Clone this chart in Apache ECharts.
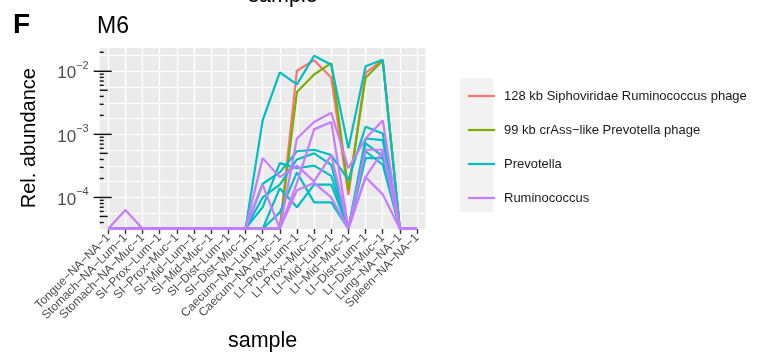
<!DOCTYPE html>
<html>
<head>
<meta charset="utf-8">
<script src="https://cdn.jsdelivr.net/npm/echarts@6/dist/echarts.min.js"></script>
<style>
  html, body { margin: 0; padding: 0; background: #fff; }
  #chart { width: 762px; height: 357px; }
</style>
</head>
<body>
<div id="chart"></div>
<script>
// x axis categories
const samples = [
  'Tongue−NA−NA−1', 'Stomach−NA−Lum−1', 'Stomach−NA−Muc−1', 'SI−Prox−Lum−1', 'SI−Prox−Muc−1',
  'SI−Mid−Lum−1', 'SI−Mid−Muc−1', 'SI−Dist−Lum−1', 'SI−Dist−Muc−1', 'Caecum−NA−Lum−1',
  'Caecum−NA−Muc−1', 'LI−Prox−Lum−1', 'LI−Prox−Muc−1', 'LI−Mid−Lum−1', 'LI−Mid−Muc−1',
  'LI−Dist−Lum−1', 'LI−Dist−Muc−1', 'Lung−NA−NA−1', 'Spleen−NA−NA−1'
]

// floor value where abundance is zero
const Z = 3.2e-5

const phage128 = [Z, Z, Z, Z, Z, Z, Z, Z, Z, Z, Z, 0.0102, 0.0150, 0.0079, 0.00011, 0.0094, 0.0150, Z, Z]
const phage99 = [Z, Z, Z, Z, Z, Z, Z, Z, Z, Z, Z, 0.0047, 0.0089, 0.0135, 0.00013, 0.0079, 0.0147, Z, Z]
const prevotella = [
  [Z, Z, Z, Z, Z, Z, Z, Z, Z, 0.00166, 0.0096, 0.0062, 0.0176, 0.0127, 0.0006, 0.0120, 0.0152, Z, Z],
  [Z, Z, Z, Z, Z, Z, Z, Z, Z, 0.000165, 0.00025, 0.00054, 0.00057, 0.00047, 0.00019, 0.00132, 0.00103, Z, Z],
  [Z, Z, Z, Z, Z, Z, Z, Z, Z, 0.0001, 0.00016, 0.0004, 0.0005, 0.00033, Z, 0.00086, 0.00081, Z, Z],
  [Z, Z, Z, Z, Z, Z, Z, Z, Z, 0.00007, 0.00035, 0.00029, 0.00032, 0.00022, Z, 0.00072, 0.00045, Z, Z],
  [Z, Z, Z, Z, Z, Z, Z, Z, Z, Z, 0.00014, 0.00007, 0.00016, 0.00016, Z, 0.00054, 0.00033, Z, Z],
  [Z, Z, Z, Z, Z, Z, Z, Z, Z, Z, 0.000058, 0.00025, 0.0000835, 0.0000835, Z, 0.00042, 0.00042, Z, Z]
]
const ruminococcus = [
  [Z, Z, Z, Z, Z, Z, Z, Z, Z, Z, Z, 0.00086, 0.00157, 0.0022, 0.00029, 0.00086, 0.00166, Z, Z],
  [Z, Z, Z, Z, Z, Z, Z, Z, Z, Z, Z, 0.00017, 0.0012, 0.00157, Z, 0.00057, 0.00057, Z, Z],
  [Z, Z, Z, Z, Z, Z, Z, Z, Z, 0.00042, 0.00021, 0.00032, 0.00018, 0.00047, Z, 0.00021, 0.00054, Z, Z],
  [Z, 0.000063, Z, Z, Z, Z, Z, Z, Z, 0.00016, Z, 0.00013, 0.00017, 0.0001, Z, 0.00021, 0.000112, Z, Z]
]

// y axis (log10), labelled decades and log tick marks
const yLabelExponents = [-4, -3, -2]
const logTickExponents = [-5, -4, -3, -2]
const logTickMantissas = [1, 2, 3, 4, 5, 6, 7, 8, 9]
const yMin = -4.5
const yMax = -1.62

const groups = [
  { name: '128 kb Siphoviridae Ruminococcus phage', color: '#F8766D', lines: [phage128] },
  { name: '99 kb crAss−like Prevotella phage', color: '#7CAE00', lines: [phage99] },
  { name: 'Prevotella', color: '#00BFC4', lines: prevotella },
  { name: 'Ruminococcus', color: '#C77CFF', lines: ruminococcus }
]

const FONT = '"Liberation Sans", Arial, sans-serif'
const GRID_LEFT = 99.7
const GRID_RIGHT = 762 - 425.6
const GRID_TOP = 47.3
const GRID_BOTTOM = 357 - 232.1

const series = []
groups.forEach(g => {
  g.lines.forEach(arr => {
    series.push({
      name: g.name,
      type: 'line',
      data: arr.map(v => Math.log10(v)),
      symbol: 'none',
      clip: false,
      silent: true,
      lineStyle: { color: g.color, width: 2.2 },
      itemStyle: { color: g.color }
    })
  })
})

const myChart = echarts.init(document.getElementById('chart'))
myChart.setOption({
  animation: false,
  grid: {
    left: GRID_LEFT,
    right: GRID_RIGHT,
    top: GRID_TOP,
    bottom: GRID_BOTTOM,
    show: true,
    backgroundColor: '#EBEBEB',
    borderWidth: 0
  },
  legend: {
    data: groups.map(g => g.name),
    orient: 'vertical',
    left: 463,
    top: 83,
    icon: 'rect',
    itemWidth: 27,
    itemHeight: 2.2,
    itemGap: 18,
    selectedMode: false,
    textStyle: {
      fontFamily: FONT,
      fontSize: 13,
      color: '#1A1A1A',
      lineHeight: 16,
      padding: [0, 0, 0, 4]
    }
  },
  xAxis: {
    type: 'category',
    data: samples,
    boundaryGap: true,
    axisLine: { show: false },
    axisTick: {
      show: true,
      alignWithLabel: true,
      length: 5,
      lineStyle: { color: '#333333', width: 1.4 }
    },
    splitLine: {
      show: true,
      alignWithLabel: true,
      lineStyle: { color: '#ffffff', width: 1.3 }
    },
    axisLabel: {
      rotate: 45,
      interval: 0,
      margin: 7,
      fontFamily: FONT,
      fontSize: 12,
      color: '#4D4D4D'
    },
    name: 'sample',
    nameLocation: 'middle',
    nameGap: 101,
    nameTextStyle: { fontFamily: FONT, fontSize: 21.5, color: '#000' }
  },
  yAxis: {
    type: 'value',
    min: yMin,
    max: yMax,
    interval: 0.25,
    axisLine: { show: false },
    axisTick: { show: false },
    splitLine: { show: true, lineStyle: { color: '#ffffff', width: 1 } },
    axisLabel: {
      margin: 11,
      showMaxLabel: false,
      formatter: function(v) {
        const e = Math.round(v)
        if (Math.abs(v - e) > 1e-6 || yLabelExponents.indexOf(e) < 0) return ''
        return '{a|10}{b|−' + Math.abs(e) + '}'
      },
      rich: {
        a: { fontFamily: FONT, fontSize: 17, color: '#4D4D4D', lineHeight: 22, padding: [5, 0, 0, 0] },
        b: { fontFamily: FONT, fontSize: 11, color: '#4D4D4D', lineHeight: 11, verticalAlign: 'top' }
      }
    },
    name: 'Rel. abundance',
    nameLocation: 'middle',
    nameGap: 60,
    nameRotate: 90,
    nameTextStyle: { fontFamily: FONT, fontSize: 20, color: '#000' }
  },
  series: series
})

// annotation_logticks style marks, placed through the y axis scale
const tickEls = []
logTickExponents.forEach(e => {
  logTickMantissas.forEach(m => {
    const lv = e + Math.log10(m)
    if (lv < yMin - 1e-9 || lv > yMax) return
    const y = myChart.convertToPixel({ yAxisIndex: 0 }, lv)
    const len = m === 1 ? 12 : (m === 5 ? 8 : 4)
    const x0 = m === 1 ? GRID_LEFT - 6 : GRID_LEFT
    tickEls.push({
      type: 'line',
      silent: true,
      z: 100,
      shape: { x1: x0, y1: y, x2: GRID_LEFT + len, y2: y },
      style: { stroke: '#111111', lineWidth: 1.4 }
    })
  })
})

myChart.setOption({
  graphic: tickEls.concat([
    {
      type: 'rect',
      z: -1,
      silent: true,
      shape: { x: 460, y: 78, width: 33, height: 134 },
      style: { fill: '#F2F2F2' }
    },
    {
      type: 'text',
      silent: true,
      style: { x: 13, y: 11, text: 'F', font: 'bold 28px ' + FONT, fill: '#000' }
    },
    {
      type: 'text',
      silent: true,
      style: { x: 97, y: 15, text: 'M6', font: '23px ' + FONT, fill: '#000' }
    },
    {
      type: 'text',
      silent: true,
      style: { x: 283, y: -15, text: 'sample', font: '21.5px ' + FONT, fill: '#000', align: 'center' }
    }
  ])
})

window.addEventListener('resize', function() {
  myChart.resize()
})
</script>
</body>
</html>
